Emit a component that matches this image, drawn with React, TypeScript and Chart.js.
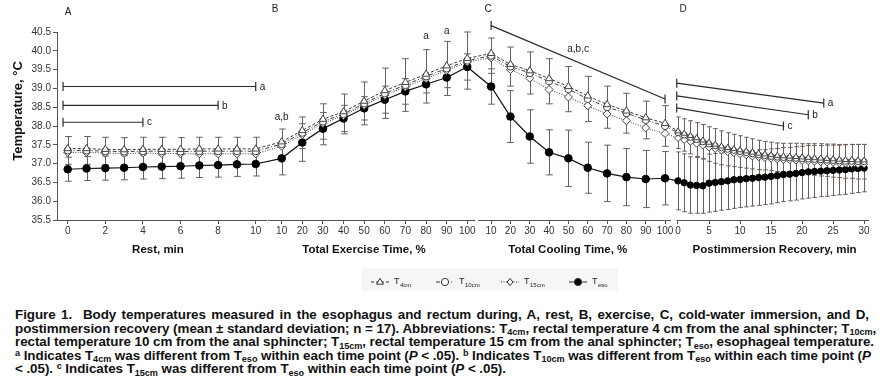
import React, { useEffect, useRef } from 'react';
import { Chart, registerables } from 'chart.js';
Chart.register(...registerables);

// ---------- categories ----------
const restMin = [0, 1, 2, 3, 4, 5, 6, 7, 8, 9, 10];
const exercisePct = [10, 20, 30, 40, 50, 60, 70, 80, 90, 100];
const coolingPct = [10, 20, 30, 40, 50, 60, 70, 80, 90, 100];
const recoveryMin = [0, 1, 2, 3, 4, 5, 6, 7, 8, 9, 10, 11, 12, 13, 14, 15, 16, 17, 18, 19, 20, 21, 22, 23, 24, 25, 26, 27, 28, 29, 30];

// ---------- tick labels ----------
const restTicks = [0, 2, 4, 6, 8, 10];
const exerciseTicks = [10, 20, 30, 40, 50, 60, 70, 80, 90, 100];
const coolingTicks = [10, 20, 30, 40, 50, 60, 70, 80, 90, 100];
const recoveryTicks = [0, 5, 10, 15, 20, 25, 30];
const yTicks = [35.5, 36.0, 36.5, 37.0, 37.5, 38.0, 38.5, 39.0, 39.5, 40.0, 40.5];

// ---------- series (rest | exercise | cooling | recovery) ----------
const t4cm = [
  37.40, 37.40, 37.38, 37.37, 37.38, 37.38, 37.38, 37.39, 37.39, 37.39, 37.39,
  37.58, 37.88, 38.18, 38.38, 38.66, 38.94, 39.16, 39.38, 39.60, 39.80,
  39.93, 39.64, 39.47, 39.26, 39.05, 38.80, 38.57, 38.40, 38.22, 38.07,
  37.86, 37.80, 37.74, 37.68, 37.62, 37.56, 37.51, 37.46, 37.42, 37.39, 37.36, 37.33, 37.30, 37.27, 37.25, 37.23,
  37.21, 37.20, 37.19, 37.18, 37.17, 37.16, 37.15, 37.14, 37.13, 37.12, 37.11, 37.10, 37.10, 37.09, 37.09,
];
const t10cm = [
  37.35, 37.35, 37.33, 37.32, 37.33, 37.33, 37.32, 37.33, 37.33, 37.33, 37.33,
  37.52, 37.82, 38.12, 38.32, 38.60, 38.87, 39.09, 39.32, 39.53, 39.74,
  39.87, 39.58, 39.41, 39.19, 38.98, 38.72, 38.50, 38.34, 38.16, 38.00,
  37.82, 37.76, 37.70, 37.64, 37.58, 37.52, 37.47, 37.42, 37.38, 37.35, 37.32, 37.29, 37.26, 37.23, 37.21, 37.19,
  37.17, 37.16, 37.15, 37.14, 37.13, 37.12, 37.11, 37.10, 37.09, 37.08, 37.07, 37.06, 37.06, 37.05, 37.05,
];
const t15cm = [
  37.30, 37.30, 37.28, 37.27, 37.28, 37.27, 37.26, 37.26, 37.26, 37.26, 37.26,
  37.46, 37.77, 38.07, 38.28, 38.55, 38.82, 39.04, 39.26, 39.48, 39.70,
  39.81, 39.50, 39.27, 38.97, 38.77, 38.54, 38.32, 38.14, 37.95, 37.80,
  37.68, 37.63, 37.58, 37.53, 37.48, 37.43, 37.39, 37.35, 37.31, 37.28, 37.25, 37.22, 37.19, 37.17, 37.15, 37.13,
  37.11, 37.10, 37.09, 37.08, 37.07, 37.06, 37.05, 37.04, 37.03, 37.02, 37.01, 37.00, 36.99, 36.98, 36.98,
];
const teso = [
  36.85, 36.87, 36.88, 36.89, 36.91, 36.92, 36.93, 36.95, 36.96, 36.98, 36.99,
  37.14, 37.56, 37.93, 38.20, 38.47, 38.70, 38.92, 39.11, 39.29, 39.57,
  39.05, 38.25, 37.72, 37.30, 37.14, 36.89, 36.74, 36.64, 36.59, 36.61,
  36.54, 36.49, 36.43, 36.42, 36.41, 36.48, 36.50, 36.52, 36.54, 36.57, 36.58, 36.60, 36.61, 36.63, 36.64, 36.66,
  36.68, 36.71, 36.72, 36.74, 36.76, 36.78, 36.79, 36.80, 36.81, 36.82, 36.83, 36.84, 36.86, 36.87, 36.88,
];
// standard deviations
const sdRectal = [
  0.37, 0.37, 0.37, 0.37, 0.37, 0.37, 0.37, 0.37, 0.37, 0.37, 0.37,
  0.40, 0.42, 0.47, 0.53, 0.57, 0.67, 0.70, 0.71, 0.72, 0.76,
  0.47, 0.52, 0.56, 0.60, 0.60, 0.60, 0.56, 0.53, 0.50, 0.54,
  0.42, 0.43, 0.44, 0.45, 0.46, 0.46, 0.46, 0.45, 0.44, 0.43, 0.42, 0.41, 0.40, 0.39, 0.38, 0.38,
  0.38, 0.38, 0.39, 0.40, 0.40, 0.41, 0.42, 0.43, 0.43, 0.44, 0.44, 0.45, 0.45, 0.46, 0.46,
];
const sdEso = [
  0.32, 0.32, 0.32, 0.32, 0.32, 0.32, 0.32, 0.32, 0.32, 0.32, 0.32,
  0.44, 0.50, 0.43, 0.35, 0.31, 0.36, 0.34, 0.23, 0.27, 0.35,
  0.47, 0.69, 0.71, 0.60, 0.75, 0.68, 0.75, 0.76, 0.76, 0.71,
  0.77, 0.77, 0.75, 0.74, 0.73, 0.77, 0.77, 0.76, 0.76, 0.76, 0.75, 0.75, 0.74, 0.74, 0.73, 0.73,
  0.72, 0.72, 0.71, 0.71, 0.70, 0.70, 0.69, 0.68, 0.68, 0.67, 0.66, 0.66, 0.65, 0.64, 0.63,
];

// ---------- significance annotations ----------
const restBrackets = [
  { label: 'a', from: -0.25, to: 10, y: 39.05 },
  { label: 'b', from: -0.25, to: 8, y: 38.55 },
  { label: 'c', from: -0.25, to: 4, y: 38.1 },
];
const exerciseMarks = [
  { label: 'a,b', at: 10, y: 38.23 },
  { label: 'a', at: 80, y: 40.39 },
  { label: 'a', at: 90, y: 40.53 },
];
const coolingBrackets = [
  { label: 'a,b,c', from: 10, to: 100, y1: 40.67, y2: 38.72, labelAt: 55, labelY: 40.05 },
];
const recoveryBrackets = [
  { label: 'a', from: -0.2, to: 23.5, y1: 39.14, y2: 38.61 },
  { label: 'b', from: -0.2, to: 21, y1: 38.8, y2: 38.3 },
  { label: 'c', from: -0.2, to: 17, y1: 38.48, y2: 38.0 },
];

// ---------- layout of the four panels on one composite x scale ----------
const panels = [
  { values: restMin, ticks: restTicks, origin: 0, first: 0, unit: 1, seg: [-0.57, 10.6], letter: 'A', letterAt: 0.02, letterY: 12, title: 'Rest, min', titleAt: 4.8 },
  { values: exercisePct, ticks: exerciseTicks, origin: 11.38, first: 10, unit: 0.1097, seg: [10.65, 21.67], letter: 'B', letterAt: 11.03, letterY: 9, title: 'Total Exercise Time, %', titleAt: 15.76 },
  { values: coolingPct, ticks: coolingTicks, origin: 22.52, first: 10, unit: 0.1028, seg: [21.82, 32.09], letter: 'C', letterAt: 22.36, letterY: 9, title: 'Total Cooling Time, %', titleAt: 26.6 },
  { values: recoveryMin, ticks: recoveryTicks, origin: 32.46, first: 0, unit: 0.33, seg: [32.38, 42.62], letter: 'D', letterAt: 32.73, letterY: 9, title: 'Postimmersion Recovery, min', titleAt: 37.6 },
];
const cx = (p: any, v: number) => p.origin + (v - p.first) * p.unit;

const xAll: number[] = [];
const panelOf: number[] = [];
panels.forEach((p, pi) => p.values.forEach((v) => { xAll.push(cx(p, v)); panelOf.push(pi); }));
const tickPos: number[] = [];
const tickLab: string[] = [];
panels.forEach((p) => p.ticks.forEach((v) => { tickPos.push(cx(p, v)); tickLab.push(String(v)); }));

const FONT = '"Liberation Sans", Arial, Helvetica, sans-serif';
const W = 884;
const H = 296;

function drawMarker(ctx: CanvasRenderingContext2D, style: string, x: number, y: number, r: number, fill: string) {
  ctx.beginPath();
  if (style === 'triangle') {
    ctx.moveTo(x, y - r);
    ctx.lineTo(x + r * 0.95, y + r * 0.6);
    ctx.lineTo(x - r * 0.95, y + r * 0.6);
    ctx.closePath();
  } else if (style === 'diamond') {
    ctx.moveTo(x, y - r);
    ctx.lineTo(x + r * 0.8, y);
    ctx.lineTo(x, y + r);
    ctx.lineTo(x - r * 0.8, y);
    ctx.closePath();
  } else {
    ctx.arc(x, y, r, 0, Math.PI * 2);
  }
  ctx.fillStyle = fill;
  ctx.fill();
  ctx.stroke();
}

const legendItems = [
  { style: 'triangle', dash: [3, 2], sub: '4cm', x: 380, fill: '#fff' },
  { style: 'circle', dash: [4, 2, 1, 2], sub: '10cm', x: 445, fill: '#fff' },
  { style: 'diamond', dash: [1, 1.5], sub: '15cm', x: 510, fill: '#fff' },
  { style: 'circle', dash: [], sub: 'eso', x: 578, fill: '#000' },
];

const errorBarPlugin = {
  id: 'errorBars',
  beforeDatasetsDraw(chart: any) {
    const { ctx, scales } = chart;
    const xs = scales.x;
    const ys = scales.y;
    ctx.save();
    ctx.strokeStyle = '#6b5d59';
    ctx.lineWidth = 1;
    const pairs: [number[], number[]][] = [[t10cm, sdRectal], [teso, sdEso]];
    pairs.forEach(([vals, sds]) => {
      vals.forEach((v, i) => {
        const px = Math.round(xs.getPixelForValue(xAll[i])) + 0.5;
        const yt = ys.getPixelForValue(v + sds[i]);
        const yb = ys.getPixelForValue(v - sds[i]);
        const hw = panelOf[i] === 3 ? 2.3 : 3.3;
        ctx.beginPath();
        ctx.moveTo(px, yt); ctx.lineTo(px, yb);
        ctx.moveTo(px - hw, yt); ctx.lineTo(px + hw, yt);
        ctx.moveTo(px - hw, yb); ctx.lineTo(px + hw, yb);
        ctx.stroke();
      });
    });
    ctx.restore();
  },
};

const decorPlugin = {
  id: 'decor',
  afterDraw(chart: any) {
    const { ctx, scales, chartArea } = chart;
    const xs = scales.x;
    const ys = scales.y;
    ctx.save();
    // axis segments
    ctx.strokeStyle = '#555';
    ctx.lineWidth = 1;
    const by = Math.round(chartArea.bottom) + 0.5;
    panels.forEach((p) => {
      ctx.beginPath();
      ctx.moveTo(xs.getPixelForValue(p.seg[0]), by);
      ctx.lineTo(xs.getPixelForValue(p.seg[1]), by);
      ctx.stroke();
    });
    // panel letters and titles
    ctx.fillStyle = '#222';
    ctx.textAlign = 'center';
    ctx.textBaseline = 'middle';
    ctx.font = `10px ${FONT}`;
    panels.forEach((p) => ctx.fillText(p.letter, xs.getPixelForValue(p.letterAt), p.letterY));
    ctx.fillStyle = '#111';
    ctx.font = `bold 11.5px ${FONT}`;
    panels.forEach((p) => ctx.fillText(p.title, xs.getPixelForValue(p.titleAt), 250));
    // y title
    ctx.save();
    ctx.translate(18, 111);
    ctx.rotate(-Math.PI / 2);
    ctx.font = `bold 13px ${FONT}`;
    ctx.fillText('Temperature, \u00B0C', 0, 0);
    ctx.restore();

    // brackets
    ctx.strokeStyle = '#2a2a2a';
    ctx.lineWidth = 1.2;
    ctx.fillStyle = '#222';
    ctx.font = `10px ${FONT}`;
    const bracket = (x1: number, y1: number, x2: number, y2: number, label: string | null) => {
      ctx.beginPath();
      ctx.moveTo(x1, y1); ctx.lineTo(x2, y2);
      ctx.moveTo(x1, y1 - 4.5); ctx.lineTo(x1, y1 + 4.5);
      ctx.moveTo(x2, y2 - 4.5); ctx.lineTo(x2, y2 + 4.5);
      ctx.stroke();
      if (label) {
        ctx.textAlign = 'left';
        ctx.fillText(label, x2 + 4, y2 + 0.5);
      }
    };
    const pA = panels[0], pC = panels[2], pD = panels[3], pB = panels[1];
    restBrackets.forEach((b) => {
      const y = ys.getPixelForValue(b.y);
      bracket(xs.getPixelForValue(cx(pA, b.from)), y, xs.getPixelForValue(cx(pA, b.to)), y, b.label);
    });
    coolingBrackets.forEach((b) => {
      bracket(xs.getPixelForValue(cx(pC, b.from)), ys.getPixelForValue(b.y1), xs.getPixelForValue(cx(pC, b.to)), ys.getPixelForValue(b.y2), null);
      ctx.textAlign = 'center';
      ctx.fillText(b.label, xs.getPixelForValue(cx(pC, b.labelAt)), ys.getPixelForValue(b.labelY));
    });
    recoveryBrackets.forEach((b) => {
      bracket(xs.getPixelForValue(cx(pD, b.from)), ys.getPixelForValue(b.y1), xs.getPixelForValue(cx(pD, b.to)), ys.getPixelForValue(b.y2), b.label);
    });
    ctx.textAlign = 'center';
    exerciseMarks.forEach((m) => ctx.fillText(m.label, xs.getPixelForValue(cx(pB, m.at)), ys.getPixelForValue(m.y)));

    // legend
    ctx.fillStyle = '#f6f6f6';
    ctx.fillRect(362, 268, 256, 23);
    const ly = 282;
    legendItems.forEach((it) => {
      ctx.strokeStyle = '#333';
      ctx.lineWidth = 1;
      ctx.setLineDash(it.dash);
      ctx.beginPath();
      ctx.moveTo(it.x - 9, ly); ctx.lineTo(it.x + 9, ly);
      ctx.stroke();
      ctx.setLineDash([]);
      ctx.strokeStyle = '#333';
      drawMarker(ctx, it.style, it.x, ly, 3.6, it.fill);
      ctx.fillStyle = '#222';
      ctx.textAlign = 'left';
      ctx.font = `9px ${FONT}`;
      ctx.fillText('T', it.x + 14, ly);
      ctx.font = `6px ${FONT}`;
      ctx.fillText(it.sub, it.x + 20, ly + 3);
    });
    ctx.restore();
  },
};

const pointR = (base: number, small: number) => (c: any) => (panelOf[c.dataIndex] === 3 ? small : base);

export default function App() {
  const ref = useRef<HTMLCanvasElement | null>(null);
  useEffect(() => {
    if (!ref.current) return;
    const mk = (vals: number[]) => vals.map((y, i) => ({ x: xAll[i], y }));
    const chart = new Chart(ref.current, {
      type: 'line',
      data: {
        datasets: [
          { label: 'T4cm', data: mk(t4cm), borderColor: '#3a3a3a', borderWidth: 1, borderDash: [3, 2], pointStyle: 'triangle', pointRadius: pointR(4.2, 3.4), pointBackgroundColor: '#fff', pointBorderColor: '#444', pointBorderWidth: 1 },
          { label: 'T10cm', data: mk(t10cm), borderColor: '#3a3a3a', borderWidth: 1, borderDash: [4, 2, 1, 2], pointStyle: 'circle', pointRadius: pointR(3.6, 3.0), pointBackgroundColor: '#fff', pointBorderColor: '#444', pointBorderWidth: 1 },
          { label: 'T15cm', data: mk(t15cm), borderColor: '#3a3a3a', borderWidth: 1, borderDash: [1, 1.5], pointStyle: 'rectRot', pointRadius: pointR(4.0, 3.5), pointBackgroundColor: '#fff', pointBorderColor: '#444', pointBorderWidth: 1 },
          { label: 'Teso', data: mk(teso), borderColor: '#111', borderWidth: 1.2, pointStyle: 'circle', pointRadius: pointR(3.8, 3.2), pointBackgroundColor: '#000', pointBorderColor: '#000', pointBorderWidth: 1 },
        ] as any,
      },
      options: {
        animation: false,
        responsive: false,
        devicePixelRatio: 1,
        layout: { padding: { top: 32, right: 15, bottom: 0, left: 0 } },
        plugins: { legend: { display: false }, tooltip: { enabled: false } },
        scales: {
          x: {
            type: 'linear',
            min: -0.57,
            max: 42.62,
            afterBuildTicks: (s: any) => { s.ticks = tickPos.map((v) => ({ value: v })); },
            afterFit: (s: any) => { s.height = H - 220; },
            ticks: { autoSkip: false, maxRotation: 0, padding: 1, color: '#333', font: { family: FONT, size: 10 }, callback: (_v: any, i: number) => tickLab[i] },
            grid: { drawOnChartArea: false, drawTicks: true, tickLength: 4, color: '#555' },
            border: { display: false },
          },
          y: {
            type: 'linear',
            min: 35.5,
            max: 40.5,
            afterBuildTicks: (s: any) => { s.ticks = yTicks.map((v) => ({ value: v })); },
            afterFit: (s: any) => { s.width = 57; },
            ticks: { padding: 2, color: '#333', font: { family: FONT, size: 10 }, callback: (v: any) => Number(v).toFixed(1) },
            grid: { drawOnChartArea: false, drawTicks: true, tickLength: 4, color: '#555' },
            border: { display: true, color: '#555' },
          },
        },
      } as any,
      plugins: [errorBarPlugin, decorPlugin],
    });
    return () => chart.destroy();
  }, []);

  const sub: React.CSSProperties = { fontSize: '0.68em', position: 'relative', top: '0.28em', verticalAlign: 'baseline', lineHeight: 0 };
  const sup: React.CSSProperties = { fontSize: '0.68em', position: 'relative', top: '-0.45em', verticalAlign: 'baseline', lineHeight: 0 };
  const just: React.CSSProperties = { whiteSpace: 'nowrap', textAlign: 'justify', textAlignLast: 'justify' } as any;

  return (
    <div style={{ position: 'absolute', left: 0, top: 0, width: W, height: 391, background: '#fff', overflow: 'hidden' }}>
      <canvas ref={ref} width={W} height={H} style={{ display: 'block', width: W, height: H }} />
      <div style={{ marginTop: 12, marginLeft: 15, width: 854, font: `bold 13.4px ${FONT}`, lineHeight: '13.6px', color: '#111', letterSpacing: '-0.05px' }}>
        <div style={just}>Figure 1.&nbsp;&nbsp;Body temperatures measured in the esophagus and rectum during, A, rest, B, exercise, C, cold-water immersion, and D,</div>
        <div style={just}>postimmersion recovery (mean ± standard deviation; n = 17). Abbreviations: T<span style={sub}>4cm</span>, rectal temperature 4 cm from the anal sphincter; T<span style={sub}>10cm</span>,</div>
        <div style={just}>rectal temperature 10 cm from the anal sphincter; T<span style={sub}>15cm</span>, rectal temperature 15 cm from the anal sphincter; T<span style={sub}>eso</span>, esophageal temperature.</div>
        <div style={just}><span style={sup}>a</span> Indicates T<span style={sub}>4cm</span> was different from T<span style={sub}>eso</span> within each time point (<i>P</i> &lt; .05). <span style={sup}>b</span> Indicates T<span style={sub}>10cm</span> was different from T<span style={sub}>eso</span> within each time point (<i>P</i></div>
        <div style={{ whiteSpace: 'nowrap' }}>&lt; .05). <span style={sup}>c</span> Indicates T<span style={sub}>15cm</span> was different from T<span style={sub}>eso</span> within each time point (<i>P</i> &lt; .05).</div>
      </div>
    </div>
  );
}
